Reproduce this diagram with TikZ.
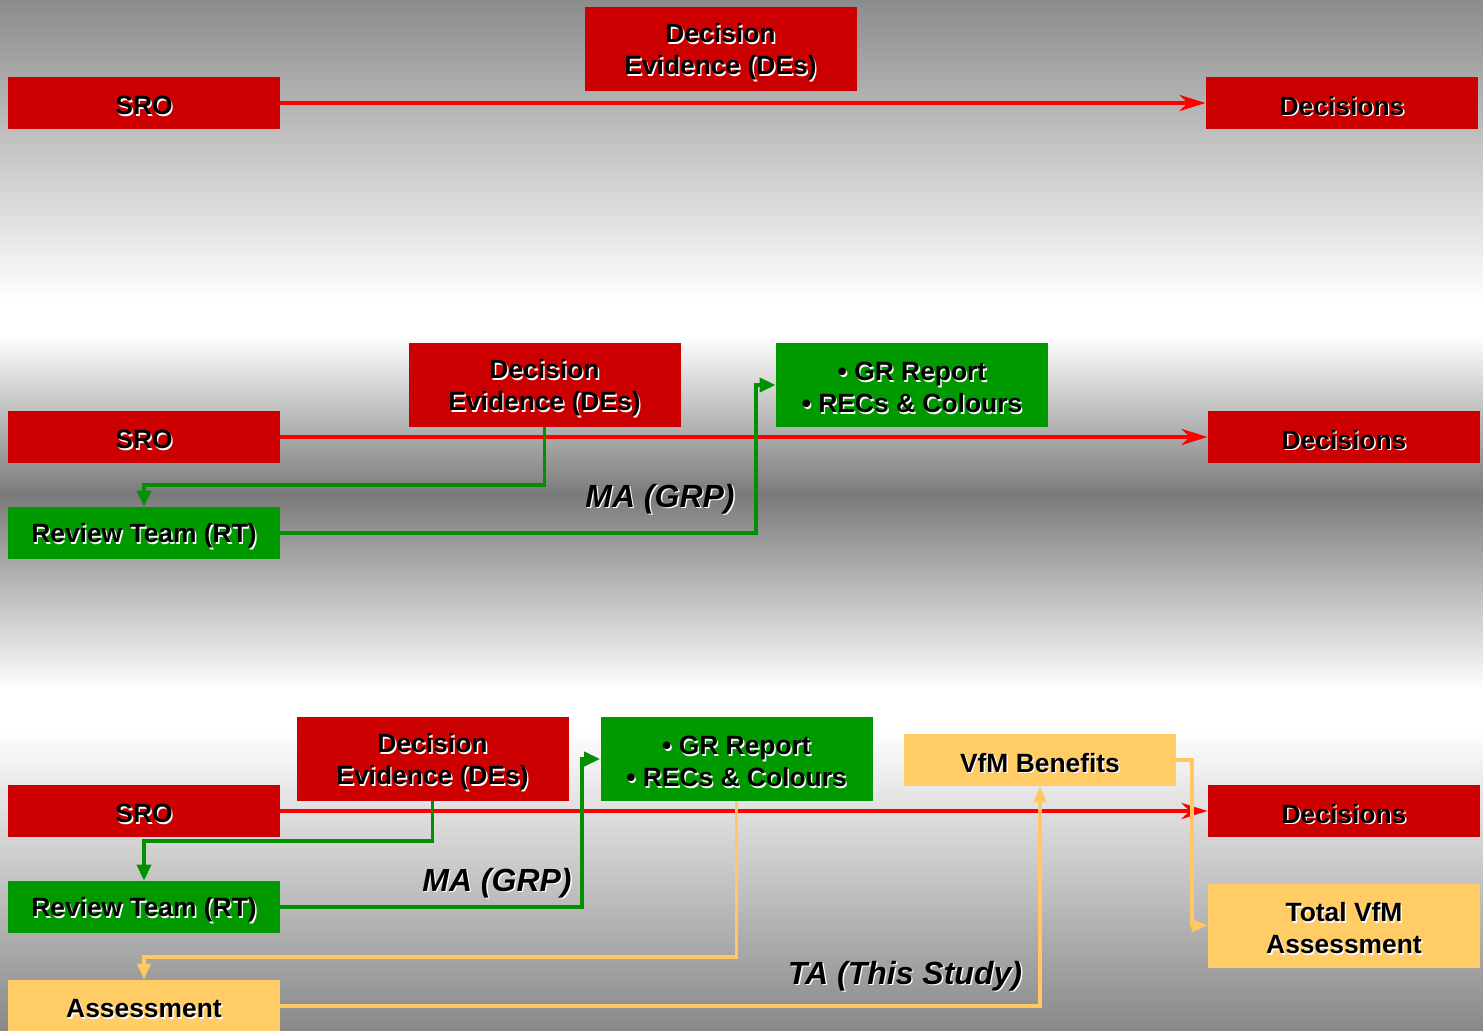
\documentclass[tikz,border=0pt]{standalone}
\usepackage{fontspec}
\setmainfont{Liberation Sans}
\usetikzlibrary{arrows.meta}
\definecolor{boxred}{HTML}{CC0000}
\definecolor{boxgreen}{HTML}{009900}
\definecolor{boxyellow}{HTML}{FFCC66}
\definecolor{linered}{HTML}{FF0000}
\definecolor{linegreen}{HTML}{009000}
\definecolor{lineyellow}{HTML}{FFC862}
\definecolor{bgA}{HTML}{8C8C8C}
\definecolor{bgB}{HTML}{7A7A7A}
\definecolor{bgC}{HTML}{888888}
\newcommand{\shtxt}[1]{\raisebox{-1.8pt}[\height][\depth]{\makebox[0pt][l]{\hspace{0.7pt}\raisebox{-0.7pt}{\textcolor{white}{#1}}}#1}}
\tikzset{
  box/.style={inner sep=0pt, minimum width=136pt, minimum height=26pt, align=center,
    font=\fontsize{13.2}{16}\selectfont\bfseries, text=black},
  tallbox/.style={box, minimum height=42pt},
  redbox/.style={box, fill=boxred},
  greenbox/.style={box, fill=boxgreen},
  yellowbox/.style={box, fill=boxyellow},
  rline/.style={draw=linered, line width=2pt, -{Stealth[length=13pt,width=8pt,inset=4pt]}},
  gline/.style={draw=linegreen, line width=1.8pt, -{Triangle[length=8pt,width=7pt]}},
  yline/.style={draw=lineyellow, line width=1.8pt, -{Triangle[length=8pt,width=6.5pt]}},
  lbl/.style={inner sep=0pt, font=\fontsize{16}{19}\selectfont\bfseries\itshape, text=black}
}
\begin{document}
\begin{tikzpicture}[x=0.5pt, y=-0.5pt]
\useasboundingbox (0,0) rectangle (1483,1031);
% background
\shade[top color=bgA, bottom color=white] (0,0) rectangle (1483,300);
\fill[white] (0,299) rectangle (1483,336);
\shade[top color=white, bottom color=bgB] (0,335) rectangle (1483,495);
\shade[top color=bgB, bottom color=white] (0,494) rectangle (1483,690);
\fill[white] (0,689) rectangle (1483,731);
\shade[top color=white, bottom color=bgC] (0,730) rectangle (1483,1031);

% ---------- row 1 ----------
\node[redbox, tallbox, fill=boxred] (de1) at (720.5,49) {\shtxt{Decision}\\\shtxt{Evidence (DEs)}};
\node[redbox] (sro1) at (144,103) {\shtxt{SRO}};
\node[redbox] (dec1) at (1342,103) {\shtxt{Decisions}};
\draw[rline] (sro1) -- (dec1);

% ---------- row 2 ----------
\node[redbox, tallbox, fill=boxred] (de2) at (544.5,385) {\shtxt{Decision}\\\shtxt{Evidence (DEs)}};
\node[greenbox, tallbox, fill=boxgreen] (gr2) at (912,385) {\shtxt{• GR Report}\\\shtxt{• RECs \& Colours}};
\node[redbox] (sro2) at (144,437) {\shtxt{SRO}};
\node[redbox] (dec2) at (1344,437) {\shtxt{Decisions}};
\node[greenbox] (rt2) at (144,533) {\shtxt{Review Team (RT)}};
\draw[rline] (sro2) -- (dec2);
\draw[gline] (de2.south) -- (de2.south |- 0,485) -| (rt2.north);
\draw[gline] (rt2.east) -- (rt2.east -| 756,0) |- (gr2.west);
\node[lbl] (ma2) at (660,496) {\shtxt{MA (GRP)}};

% ---------- row 3 ----------
\node[redbox, tallbox, fill=boxred] (de3) at (432.5,759) {\shtxt{Decision}\\\shtxt{Evidence (DEs)}};
\node[greenbox, tallbox, fill=boxgreen] (gr3) at (736.5,759) {\shtxt{• GR Report}\\\shtxt{• RECs \& Colours}};
\node[yellowbox] (vfm) at (1040,760) {\shtxt{VfM Benefits}};
\node[redbox] (sro3) at (144,811) {\shtxt{SRO}};
\node[redbox] (dec3) at (1344,811) {\shtxt{Decisions}};
\node[greenbox] (rt3) at (144,907) {\shtxt{Review Team (RT)}};
\node[yellowbox, tallbox, fill=boxyellow] (tot) at (1344,925.5) {\shtxt{Total VfM}\\\shtxt{Assessment}};
\node[yellowbox] (as) at (144,1006) {\shtxt{Assessment}};
\draw[rline] (sro3) -- (dec3);
\draw[gline] (de3.south) -- (de3.south |- 0,841) -| (rt3.north);
\draw[gline] (rt3.east) -- (rt3.east -| 582,0) |- (gr3.west);
\draw[yline] (gr3.south) -- (gr3.south |- 0,957) -| (as.north);
\draw[yline] (as.east) -| (vfm.south);
\draw[yline] (vfm.east) -- (vfm.east -| 1192,0) |- (tot.west);
\node[lbl] (ma3) at (497,880) {\shtxt{MA (GRP)}};
\node[lbl] (ta) at (905,973) {\shtxt{TA (This Study)}};
\end{tikzpicture}
\end{document}
